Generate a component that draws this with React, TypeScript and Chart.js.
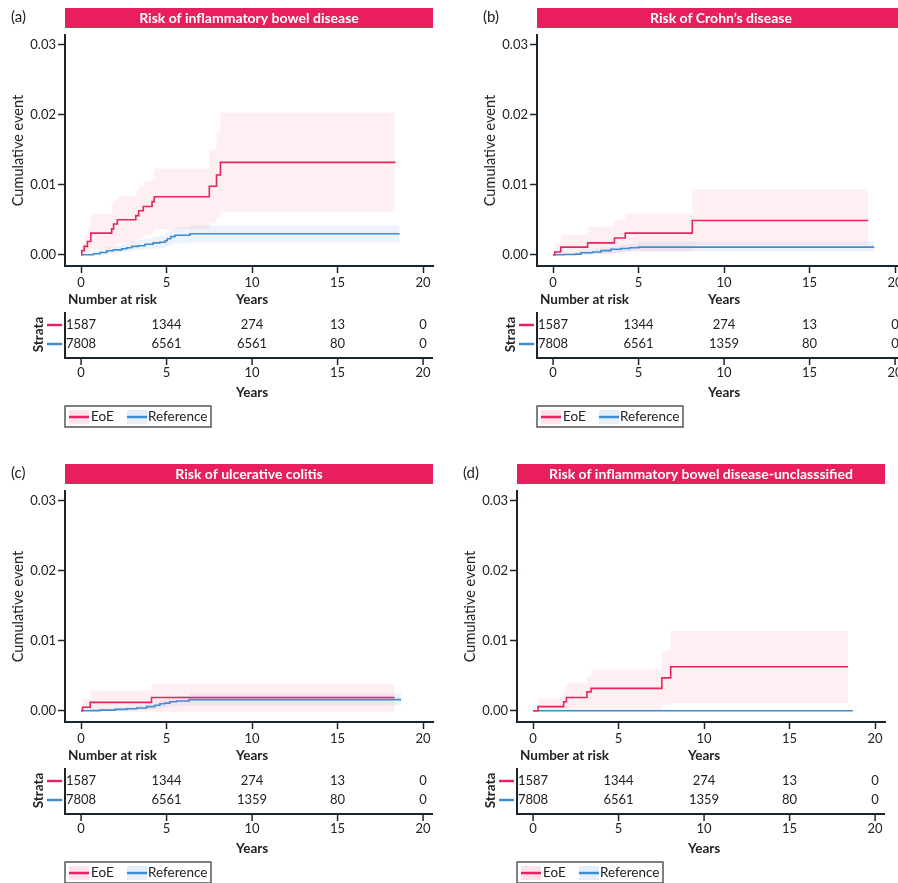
import React, { useEffect, useRef } from "react";
import { Chart, registerables } from "chart.js";

Chart.register(...registerables);

const FONT = "Lato, 'Noto Sans', sans-serif";
const RED = "#E8245E";
const BLUE = "#3B8ED0";
const PINK_BAND = "rgba(236, 40, 90, 0.075)";
const BLUE_BAND = "rgba(60, 120, 210, 0.085)";
const PINK_LEG = "rgba(236, 40, 90, 0.13)";
const BLUE_LEG = "rgba(60, 120, 210, 0.13)";
const AXIS = "#1B2530";
const TEXT = "#222222";
const TITLE_BG = "#E91E5C";

const W = 440;
const H = 430;

const panelLetters = ["(a)", "(b)", "(c)", "(d)"];
const panelTitles = [
  "Risk of inflammatory bowel disease",
  "Risk of Crohn\u2019s disease",
  "Risk of ulcerative colitis",
  "Risk of inflammatory bowel disease-unclasssified",
];
const strataLabels = ["EoE", "Reference"];
const xTicks = [0, 5, 10, 15, 20];
const yTicks = [0, 0.01, 0.02, 0.03];
const riskTimes = [0, 5, 10, 15, 20];

// (a) IBD
const ibdEoeTime = [0, 0.04, 0.18, 0.37, 0.57, 1.79, 1.9, 2.12, 3.2, 3.37, 3.64, 4.15, 4.28, 7.5, 7.92, 8.15, 18.38];
const ibdEoeEst = [0, 0.0006, 0.0012, 0.0019, 0.0031, 0.0037, 0.0044, 0.005, 0.0056, 0.0063, 0.0069, 0.0076, 0.0083, 0.0098, 0.0114, 0.0132, 0.0132];
const ibdEoeHigh = [0, 0.0017, 0.0027, 0.0039, 0.0058, 0.0071, 0.0079, 0.0084, 0.0092, 0.0098, 0.0105, 0.011, 0.0123, 0.015, 0.0177, 0.0203, 0.0203];
const ibdEoeLow = [0, 0, 0.0001, 0.0003, 0.0008, 0.0011, 0.0014, 0.0017, 0.002, 0.0024, 0.0028, 0.0032, 0.0037, 0.0045, 0.0053, 0.0062, 0.0062];
const ibdRefTime = [0, 0.72, 1.11, 1.5, 1.89, 2.38, 2.67, 2.96, 3.35, 3.74, 4.22, 4.61, 4.91, 5.04, 5.24, 5.49, 6.37, 18.63];
const ibdRefEst = [0, 0.00014, 0.00033, 0.00057, 0.0007, 0.00086, 0.001, 0.0012, 0.0013, 0.0015, 0.0017, 0.0018, 0.002, 0.0023, 0.0026, 0.0028, 0.003, 0.003];
const ibdRefHigh = [0.0001, 0.0005, 0.0008, 0.0011, 0.0013, 0.0015, 0.0017, 0.0019, 0.0021, 0.0023, 0.0026, 0.0028, 0.0031, 0.0034, 0.0037, 0.0039, 0.0042, 0.0042];
const ibdRefLow = [0, 0, 0.0001, 0.0002, 0.0003, 0.0004, 0.0005, 0.0006, 0.0007, 0.0008, 0.0009, 0.001, 0.0011, 0.0013, 0.0015, 0.0016, 0.0018, 0.0018];
const ibdRiskEoe = [1587, 1344, 274, 13, 0];
const ibdRiskRef = [7808, 6561, 6561, 80, 0];

// (b) Crohn's
const cdEoeTime = [0, 0.1, 0.45, 2.02, 3.59, 4.22, 8.14, 18.43];
const cdEoeEst = [0, 0.0004, 0.0011, 0.0017, 0.0024, 0.0031, 0.0049, 0.0049];
const cdEoeHigh = [0, 0.0017, 0.0029, 0.004, 0.0049, 0.0059, 0.0094, 0.0094];
const cdEoeLow = [0, 0, 0, 0.0001, 0.0003, 0.0005, 0.0014, 0.0014];
const cdRefTime = [0, 0.65, 1.33, 1.63, 2.31, 2.8, 3.39, 3.98, 4.47, 5.0, 18.78];
const cdRefEst = [0, 0.00005, 0.0001, 0.0003, 0.0004, 0.0006, 0.0008, 0.0009, 0.001, 0.0011, 0.0011];
const cdRefHigh = [0, 0.0003, 0.0005, 0.0007, 0.0009, 0.0011, 0.0013, 0.0015, 0.0016, 0.0019, 0.0019];
const cdRefLow = [0, 0, 0, 0, 0.0001, 0.0002, 0.0003, 0.0004, 0.0005, 0.0005, 0.0005];
const cdRiskEoe = [1587, 1344, 274, 13, 0];
const cdRiskRef = [7808, 6561, 1359, 80, 0];

// (c) UC
const ucEoeTime = [0, 0.08, 0.53, 4.12, 18.33];
const ucEoeEst = [0, 0.0005, 0.0012, 0.0019, 0.0019];
const ucEoeHigh = [0, 0.0017, 0.0029, 0.0039, 0.0039];
const ucEoeLow = [0, -0.0001, -0.0001, -0.0002, -0.0002];
const ucRefTime = [0, 0.53, 1.11, 1.98, 2.67, 3.25, 3.83, 4.32, 4.61, 4.9, 5.19, 5.58, 6.32, 18.72];
const ucRefEst = [0, 0.00003, 0.0001, 0.0002, 0.0003, 0.0004, 0.0006, 0.0008, 0.001, 0.0011, 0.0013, 0.0014, 0.0016, 0.0016];
const ucRefHigh = [0, 0.0002, 0.0003, 0.0005, 0.0006, 0.0008, 0.001, 0.0013, 0.0015, 0.0017, 0.0019, 0.0021, 0.0025, 0.0025];
const ucRefLow = [0, 0, 0, 0, 0, 0.0001, 0.0002, 0.0003, 0.0004, 0.0005, 0.0006, 0.0007, 0.0008, 0.0008];
const ucRiskEoe = [1587, 1344, 274, 13, 0];
const ucRiskRef = [7808, 6561, 1359, 80, 0];

// (d) IBD-U
const ibduEoeTime = [0, 0.29, 1.79, 1.95, 3.15, 3.39, 7.53, 8.05, 18.42];
const ibduEoeEst = [0, 0.0006, 0.0013, 0.0019, 0.0027, 0.0032, 0.0047, 0.0063, 0.0063];
const ibduEoeHigh = [0, 0.0018, 0.003, 0.004, 0.005, 0.0059, 0.0086, 0.0114, 0.0114];
const ibduEoeLow = [0, 0, 0, 0, 0, 0, 0.0008, 0.0011, 0.0011];
const ibduRefTime = [0, 18.7];
const ibduRefEst = [0, 0];
const ibduRefHigh = [0, 0];
const ibduRefLow = [0, 0];
const ibduRiskEoe = [1587, 1344, 274, 13, 0];
const ibduRiskRef = [7808, 6561, 1359, 80, 0];

type Curve = { t: number[]; est: number[]; lo: number[]; hi: number[] };
type PanelSpec = {
  letter: string;
  title: string;
  eoe: Curve;
  ref: Curve;
  riskEoe: number[];
  riskRef: number[];
  left: number;
  top: number;
};

const pts = (t: number[], v: number[]) => t.map((x, i) => ({ x, y: v[i] }));

function makeDecor(p: PanelSpec) {
  return {
    id: "decor",
    afterDraw(chart: any) {
      const ctx: CanvasRenderingContext2D = chart.ctx;
      const xs = chart.scales.x;
      const { left, right, bottom } = chart.chartArea;
      ctx.save();
      ctx.textBaseline = "middle";
      // panel letter
      ctx.fillStyle = TEXT;
      ctx.font = `15px ${FONT}`;
      ctx.textAlign = "left";
      ctx.fillText(p.letter, 11, 17);
      // title band
      ctx.fillStyle = TITLE_BG;
      ctx.fillRect(left, 8, right - left, 20);
      ctx.fillStyle = "#ffffff";
      ctx.font = `bold 14px ${FONT}`;
      ctx.textAlign = "center";
      ctx.fillText(p.title, (left + right) / 2, 18.5);
      // headings
      const yearsX = xs.getPixelForValue(10);
      ctx.fillStyle = TEXT;
      ctx.font = `bold 13.5px ${FONT}`;
      ctx.textAlign = "left";
      ctx.fillText("Number at risk", left + 3, bottom + 34);
      ctx.textAlign = "center";
      ctx.fillText("Years", yearsX, bottom + 34);
      // risk table axes
      const rowY = [bottom + 59, bottom + 78];
      const axisY = bottom + 92;
      ctx.strokeStyle = AXIS;
      ctx.lineWidth = 2;
      ctx.beginPath();
      ctx.moveTo(left, bottom + 46);
      ctx.lineTo(left, axisY);
      ctx.lineTo(right, axisY);
      ctx.stroke();
      ctx.lineWidth = 1.5;
      xTicks.forEach((t) => {
        const px = xs.getPixelForValue(t);
        ctx.beginPath();
        ctx.moveTo(px, axisY);
        ctx.lineTo(px, axisY + 7);
        ctx.stroke();
      });
      ctx.font = `13px ${FONT}`;
      ctx.fillStyle = TEXT;
      ctx.textAlign = "center";
      xTicks.forEach((t) => ctx.fillText(String(t), xs.getPixelForValue(t), axisY + 15));
      [p.riskEoe, p.riskRef].forEach((row, r) =>
        row.forEach((n, i) => ctx.fillText(String(n), xs.getPixelForValue(riskTimes[i]), rowY[r]))
      );
      // strata dashes
      [RED, BLUE].forEach((c, r) => {
        ctx.strokeStyle = c;
        ctx.lineWidth = 2.5;
        ctx.beginPath();
        ctx.moveTo(left - 18, rowY[r]);
        ctx.lineTo(left - 3, rowY[r]);
        ctx.stroke();
      });
      ctx.save();
      ctx.translate(39, (rowY[0] + rowY[1]) / 2);
      ctx.rotate(-Math.PI / 2);
      ctx.font = `bold 13.5px ${FONT}`;
      ctx.fillStyle = TEXT;
      ctx.textAlign = "center";
      ctx.fillText("Strata", 0, 0);
      ctx.restore();
      ctx.font = `bold 13.5px ${FONT}`;
      ctx.fillStyle = TEXT;
      ctx.textAlign = "center";
      ctx.fillText("Years", yearsX, bottom + 127);
      // legend
      const lt = bottom + 140;
      ctx.strokeStyle = "#555";
      ctx.lineWidth = 1.5;
      ctx.strokeRect(left, lt, 146, 21);
      const items = [
        { x: left + 4, tx: left + 26, c: RED, bg: PINK_LEG },
        { x: left + 62, tx: left + 83, c: BLUE, bg: BLUE_LEG },
      ];
      items.forEach((it, i) => {
        ctx.fillStyle = it.bg;
        ctx.fillRect(it.x, lt + 4, 20, 14);
        ctx.strokeStyle = it.c;
        ctx.lineWidth = 2.5;
        ctx.beginPath();
        ctx.moveTo(it.x, lt + 11);
        ctx.lineTo(it.x + 20, lt + 11);
        ctx.stroke();
        ctx.fillStyle = TEXT;
        ctx.font = `13.5px ${FONT}`;
        ctx.textAlign = "left";
        ctx.fillText(strataLabels[i], it.tx, lt + 11);
      });
      ctx.restore();
    },
  };
}

function Panel({ spec }: { spec: PanelSpec }) {
  const ref = useRef<HTMLCanvasElement>(null);
  useEffect(() => {
    const p = spec;
    const common = { pointRadius: 0, pointHitRadius: 0, stepped: "before" as const };
    const tickFont = { family: FONT, size: 13 };
    const grid = {
      drawOnChartArea: false,
      drawTicks: true,
      tickLength: 7,
      tickWidth: 1.5,
      tickColor: AXIS,
      color: AXIS,
    };
    const chart = new Chart(ref.current as HTMLCanvasElement, {
      type: "line",
      data: {
        datasets: [
          { ...common, label: strataLabels[0], data: pts(p.eoe.t, p.eoe.est), borderColor: RED, borderWidth: 1.6, fill: false },
          { ...common, label: strataLabels[1], data: pts(p.ref.t, p.ref.est), borderColor: BLUE, borderWidth: 1.6, fill: false },
          { ...common, label: "EoE upper", data: pts(p.eoe.t, p.eoe.hi), borderWidth: 0, borderColor: "transparent", backgroundColor: PINK_BAND, fill: "+1" },
          { ...common, label: "EoE lower", data: pts(p.eoe.t, p.eoe.lo), borderWidth: 0, borderColor: "transparent", fill: false },
          { ...common, label: "Ref upper", data: pts(p.ref.t, p.ref.hi), borderWidth: 0, borderColor: "transparent", backgroundColor: BLUE_BAND, fill: "+1" },
          { ...common, label: "Ref lower", data: pts(p.ref.t, p.ref.lo), borderWidth: 0, borderColor: "transparent", fill: false },
        ],
      },
      options: {
        responsive: false,
        animation: false,
        devicePixelRatio: 1,
        layout: { padding: { left: 0, top: 35, right: 7, bottom: 0 } },
        plugins: { legend: { display: false }, tooltip: { enabled: false }, title: { display: false } },
        scales: {
          x: {
            type: "linear",
            min: -0.94,
            max: 20.58,
            afterBuildTicks: (s: any) => {
              s.ticks = xTicks.map((v) => ({ value: v }));
            },
            afterFit: (s: any) => {
              s.height = H - 266;
            },
            ticks: { callback: (v: any) => String(v), font: tickFont, color: TEXT, padding: 2, maxRotation: 0, autoSkip: false },
            grid,
            border: { display: true, color: AXIS, width: 2 },
          },
          y: {
            type: "linear",
            min: -0.0016,
            max: 0.0314,
            afterBuildTicks: (s: any) => {
              s.ticks = yTicks.map((v) => ({ value: v }));
            },
            afterFit: (s: any) => {
              s.width = 65;
            },
            ticks: { callback: (v: any) => Number(v).toFixed(2), font: tickFont, color: TEXT, padding: 2 },
            grid,
            border: { display: true, color: AXIS, width: 2 },
            title: { display: true, text: "Cumulative event", font: { family: FONT, size: 14.5 }, color: TEXT, padding: { top: 10, bottom: 0 } },
          },
        },
      },
      plugins: [makeDecor(p)],
    } as any);
    return () => chart.destroy();
  }, [spec]);
  return (
    <canvas
      ref={ref}
      width={W}
      height={H}
      style={{ position: "absolute", left: spec.left, top: spec.top, width: W, height: H }}
    />
  );
}

const panels: PanelSpec[] = [
  {
    letter: panelLetters[0], title: panelTitles[0],
    eoe: { t: ibdEoeTime, est: ibdEoeEst, lo: ibdEoeLow, hi: ibdEoeHigh },
    ref: { t: ibdRefTime, est: ibdRefEst, lo: ibdRefLow, hi: ibdRefHigh },
    riskEoe: ibdRiskEoe, riskRef: ibdRiskRef, left: 0, top: 0,
  },
  {
    letter: panelLetters[1], title: panelTitles[1],
    eoe: { t: cdEoeTime, est: cdEoeEst, lo: cdEoeLow, hi: cdEoeHigh },
    ref: { t: cdRefTime, est: cdRefEst, lo: cdRefLow, hi: cdRefHigh },
    riskEoe: cdRiskEoe, riskRef: cdRiskRef, left: 472, top: 0,
  },
  {
    letter: panelLetters[2], title: panelTitles[2],
    eoe: { t: ucEoeTime, est: ucEoeEst, lo: ucEoeLow, hi: ucEoeHigh },
    ref: { t: ucRefTime, est: ucRefEst, lo: ucRefLow, hi: ucRefHigh },
    riskEoe: ucRiskEoe, riskRef: ucRiskRef, left: 0, top: 456,
  },
  {
    letter: panelLetters[3], title: panelTitles[3],
    eoe: { t: ibduEoeTime, est: ibduEoeEst, lo: ibduEoeLow, hi: ibduEoeHigh },
    ref: { t: ibduRefTime, est: ibduRefEst, lo: ibduRefLow, hi: ibduRefHigh },
    riskEoe: ibduRiskEoe, riskRef: ibduRiskRef, left: 452, top: 456,
  },
];

export default function App() {
  return (
    <div
      style={{
        position: "absolute",
        left: 0,
        top: 0,
        width: 898,
        height: 883,
        overflow: "hidden",
        background: "#ffffff",
      }}
    >
      {panels.map((p, i) => (
        <Panel key={i} spec={p} />
      ))}
    </div>
  );
}
